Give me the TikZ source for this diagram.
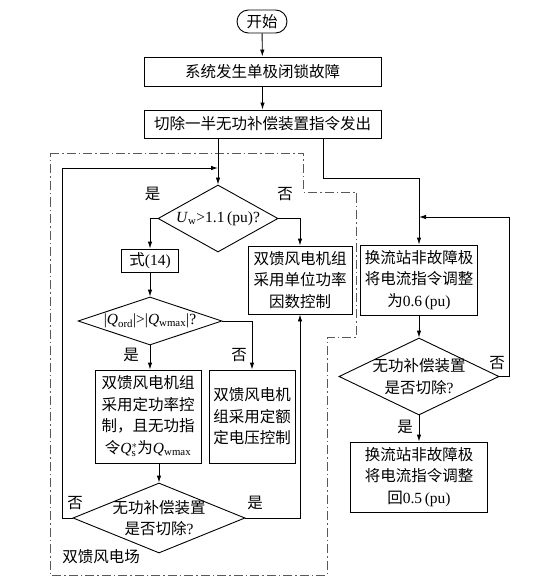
\documentclass[tikz,border=0pt]{standalone}
\usepackage{fontspec}
\setmainfont{Liberation Serif}
\newfontfamily\zh{Noto Sans CJK SC}
\usetikzlibrary{shapes.geometric,arrows.meta}

\newcommand{\latn}[1]{{\rmfamily #1}}

\tikzset{
  caixa/.style={draw, rectangle, align=center, inner sep=1pt, font=\zh\fontsize{15.5}{21.5}\selectfont},
  decisao/.style={draw, diamond, align=center, inner sep=-6pt, font=\zh\fontsize{15.5}{21.5}\selectfont},
  rotulo/.style={inner sep=0pt, font=\zh\fontsize{15.5}{18}\selectfont},
  seta/.style={-{Latex[length=7pt,width=4.5pt]}},
  limite/.style={gray!70!black, line width=0.7pt, dash pattern=on 9pt off 3pt on 1.5pt off 3pt}
}

\begin{document}
\begin{tikzpicture}[x=1pt,y=-1pt,line width=0.9pt]
\useasboundingbox (0,0) rectangle (557,585);

% Limite do parque eolico
\draw[limite] (50,153) -- (303,153) -- (303,192) -- (356,192) -- (356,337) -- (327,337) -- (327,575) -- (50,575) -- cycle;
\node[rotulo, anchor=west] (campo) at (62,557) {双馈风电场};

% Inicio e falha
\node[caixa, rounded corners=11.5pt, minimum width=50pt, minimum height=23pt] (inicio) at (262,21.5) {开始};
\node[caixa, minimum width=237pt, minimum height=29pt] (falha) at (262.5,71.5) {系统发生单极闭锁故障};
\node[caixa, minimum width=237pt, minimum height=28pt] (corte) at (262.5,124) {切除一半无功补偿装置指令发出};
\draw[seta] (inicio) -- (falha);
\draw[seta] (falha) -- (corte);

% Parque eolico
\node[decisao, shape aspect=1.8, minimum width=120pt, minimum height=67pt] (tensao) at (218,218.5) {\latn{\textit{U}\textsubscript{w}>1.1\,(pu)?}};
\node[caixa, minimum width=57pt, minimum height=23pt] (eq14) at (150,260.5) {式\latn{(14)}};
\node[caixa, minimum width=104pt, minimum height=68pt] (fatorunit) at (300,280) {双馈风电机组\\采用单位功率\\因数控制};
\node[decisao, shape aspect=3, minimum width=144pt, minimum height=48pt] (limiteq) at (150,321) {\latn{|\textit{Q}\textsubscript{ord}|>|\textit{Q}\textsubscript{wmax}|?}};
\node[caixa, minimum width=106pt, minimum height=93pt] (potconst) at (148,416.5) {双馈风电机组\\采用定功率控\\制，且无功指\\令\latn{\textit{Q}$^{*}_{\mathrm{s}}$}为\latn{\textit{Q}\textsubscript{wmax}}};
\node[caixa, minimum width=86pt, minimum height=93pt] (tensconst) at (252,416.5) {双馈风电机\\组采用定额\\定电压控制};
\node[decisao, shape aspect=2.46, minimum width=172pt, minimum height=70pt] (compens) at (159,518) {无功补偿装置\\是否切除\latn{?}};
\coordinate (retorno) at (218,168);

\draw[seta] (corte.south -| tensao.north) -- (tensao.north);
\draw[seta] (tensao.west) -| (eq14.north);
\draw[seta] (tensao.east) -| (fatorunit.north);
\draw[seta] (eq14.south) -- (limiteq.north);
\draw[seta] (limiteq.south) -- (limiteq.south |- potconst.north);
\draw[seta] (limiteq.east) -| (tensconst.north);
\draw[seta] (potconst.south -| compens.north) -- (compens.north);
\draw[seta] (compens.west) -- ++(-10,0) |- (retorno);
\draw[seta] (compens.east) -| (fatorunit.south);

\node[rotulo] (sim1) at (152.5,194) {是};
\node[rotulo] (nao1) at (285,194) {否};
\node[rotulo] (sim2) at (131,355) {是};
\node[rotulo] (nao2) at (239,355) {否};
\node[rotulo] (nao3) at (75,503) {否};
\node[rotulo] (sim3) at (255,503) {是};

% Estacao conversora
\node[caixa, minimum width=117pt, minimum height=70pt] (conv06) at (419,280) {换流站非故障极\\将电流指令调整\\为\latn{0.6\,(pu)}};
\node[decisao, shape aspect=2.08, minimum width=160pt, minimum height=77pt] (compens2) at (419,376.5) {无功补偿装置\\是否切除\latn{?}};
\node[caixa, minimum width=137pt, minimum height=70pt] (conv05) at (419,477) {换流站非故障极\\将电流指令调整\\回\latn{0.5\,(pu)}};
\coordinate (volta) at (419,217);

\draw[seta] ([xshift=60.5pt]corte.south) -- ++(0,40) -| (conv06.north);
\draw[seta] (conv06) -- (compens2);
\draw[seta] (compens2) -- (conv05);
\draw[seta] (compens2.east) -- ++(10,0) |- (volta);

\node[rotulo] (nao4) at (497,363) {否};
\node[rotulo] (sim4) at (405,427) {是};

\end{tikzpicture}
\end{document}
